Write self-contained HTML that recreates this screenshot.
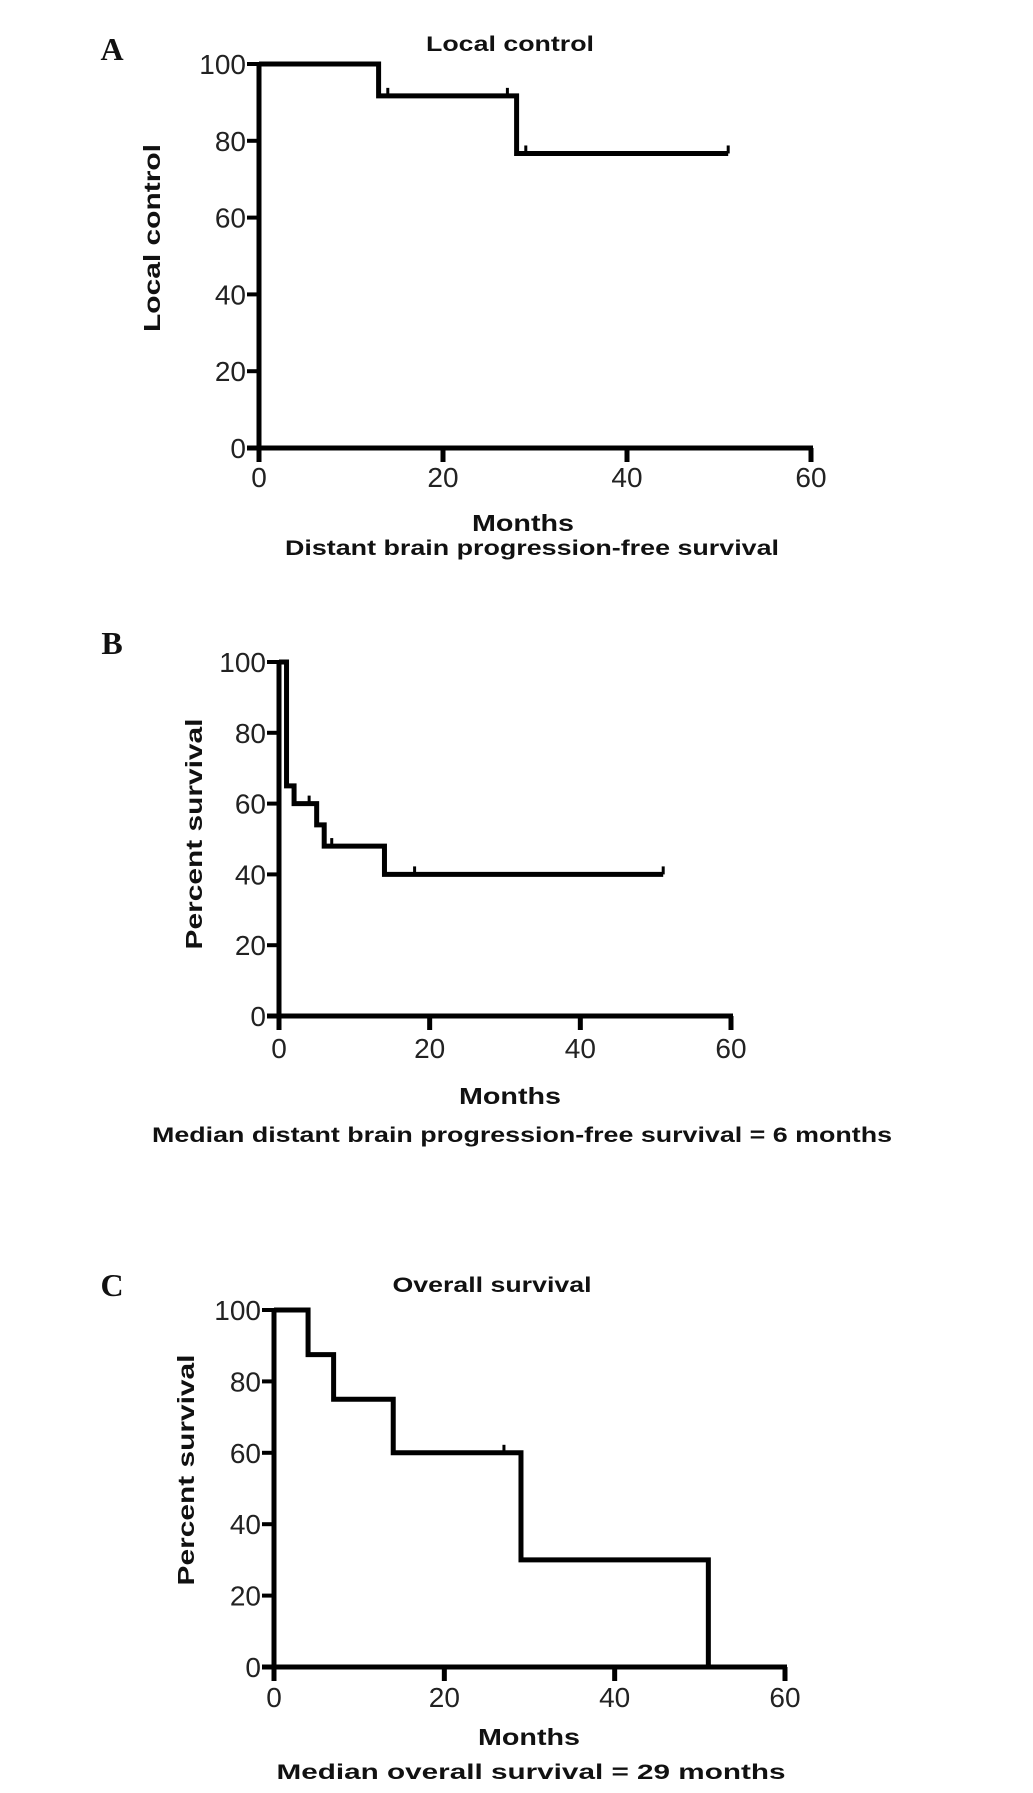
<!DOCTYPE html>
<html><head><meta charset="utf-8"><style>
html,body{margin:0;padding:0;background:#fff;}
svg{display:block;}
</style></head><body>
<svg id="fig" width="1033" height="1793" viewBox="0 0 1033 1793" xmlns="http://www.w3.org/2000/svg" font-family="Liberation Sans, Arial, sans-serif"></svg>
<script>
// Panel A: local control
const aTimes = [0, 13, 28, 51];
const aSurv = [100, 91.7, 76.7, 76.7];
const aCensor = [14, 27, 29, 51];
// Panel B: distant brain progression-free survival
const bTimes = [0, 1, 2, 5, 6, 14, 51];
const bSurv = [100, 65, 60, 54, 48, 40, 40];
const bCensor = [4, 7, 18, 51];
// Panel C: overall survival
const cTimes = [0, 4, 7, 14, 29, 51];
const cSurv = [100, 87.5, 75, 60, 30, 0];
const cCensor = [27];
const xTicks = [0, 20, 40, 60];
const yTicks = [0, 20, 40, 60, 80, 100];

const NS = 'http://www.w3.org/2000/svg';
const svg = document.getElementById('fig');
function mk(tag, attrs, parent) {
  const e = document.createElementNS(NS, tag);
  for (const k in attrs) e.setAttribute(k, attrs[k]);
  (parent || svg).appendChild(e);
  return e;
}
function txt(parent, x, y, s, size, opts) {
  const t = mk('text', Object.assign({x: x, y: y, 'font-size': size, 'text-anchor': 'middle', fill: '#111'}, opts || {}), parent);
  t.textContent = s;
  return t;
}

function panel(cfg) {
  const g = mk('g', {});
  
  
  const X = v => cfg.x0 + (v / 60) * (cfg.x1 - cfg.x0);
  const Y = v => cfg.y0 - (v / 100) * (cfg.y0 - cfg.y1);

  const letter = txt(g, 112, cfg.letterY, cfg.letter, 32, {'font-family': 'Liberation Serif, serif', 'font-weight': 'bold'});
  
  

  if (cfg.title) {
    const t = txt(g, cfg.titleX, cfg.titleY, cfg.title, 21, {'font-weight': 'bold', textLength: cfg.titleW, lengthAdjust: 'spacingAndGlyphs'});
    
    
  }

  const yAxis = mk('line', {x1: X(0), y1: Y(100) - 2, x2: X(0), y2: Y(0) + 14, stroke: '#000', 'stroke-width': 5}, g);
  
  
  const xAxis = mk('line', {x1: X(0) - 12, y1: Y(0), x2: X(60) + 2, y2: Y(0), stroke: '#000', 'stroke-width': 5}, g);
  
  

  yTicks.forEach(v => {
    const tk = mk('line', {x1: X(0) - 12, y1: Y(v), x2: X(0), y2: Y(v), stroke: '#000', 'stroke-width': 4}, g);
    
    
    const lb = txt(g, X(0) - 13, Y(v) + 10, String(v), 28, {'text-anchor': 'end', fill: '#222', transform: 'scale(1,1)'});
    
    
  });
  xTicks.forEach(v => {
    const tk = mk('line', {x1: X(v), y1: Y(0), x2: X(v), y2: Y(0) + 14, stroke: '#000', 'stroke-width': 5}, g);
    
    
    const lb = txt(g, X(v), cfg.tickLabelY + 1, String(v), 28, {fill: '#222'});
    
    
  });

  let d = 'M' + X(cfg.times[0]) + ' ' + Y(cfg.surv[0]);
  for (let i = 1; i < cfg.times.length; i++) {
    d += ' H' + X(cfg.times[i]) + ' V' + Y(cfg.surv[i]);
  }
  const curve = mk('path', {d: d, fill: 'none', stroke: '#000', 'stroke-width': 5}, g);
  
  

  cfg.censor.forEach(c => {
    let s = cfg.surv[0];
    for (let i = 0; i < cfg.times.length; i++) if (cfg.times[i] <= c) s = cfg.surv[i];
    const m = mk('line', {x1: X(c), y1: Y(s), x2: X(c), y2: Y(s) - 8, stroke: '#000', 'stroke-width': 3}, g);
    
    
  });

  const yl = txt(g, 0, 0, cfg.yLabel, 23, {'font-weight': 'bold', transform: 'translate(' + (cfg.yLabelX + 8) + ',' + cfg.yLabelY + ') rotate(-90)', textLength: cfg.yLabelW, lengthAdjust: 'spacingAndGlyphs'});
  
  

  const xl = txt(g, cfg.monthsX, cfg.monthsY + 8, 'Months', 23, {'font-weight': 'bold', textLength: 102, lengthAdjust: 'spacingAndGlyphs'});
  
  

  if (cfg.caption) {
    const cp = txt(g, cfg.captionX, cfg.captionY + 7, cfg.caption, 21, {'font-weight': 'bold', textLength: cfg.captionW, lengthAdjust: 'spacingAndGlyphs'});
    
    
  }
}

panel({name: 'panel-a-local-control', letter: 'A', letterY: 60, title: 'Local control', titleX: 510, titleY: 51, titleW: 168,
  x0: 259, x1: 811, y0: 448, y1: 64, tickLabelY: 486, times: aTimes, surv: aSurv, censor: aCensor,
  yLabel: 'Local control', yLabelX: 152, yLabelY: 238, yLabelW: 188, monthsX: 523, monthsY: 523,
  caption: 'Distant brain progression-free survival', captionX: 532, captionY: 548, captionW: 494});

panel({name: 'panel-b-distant-brain-pfs', letter: 'B', letterY: 654, title: null,
  x0: 279, x1: 731, y0: 1016, y1: 662, tickLabelY: 1057, times: bTimes, surv: bSurv, censor: bCensor,
  yLabel: 'Percent survival', yLabelX: 194, yLabelY: 834, yLabelW: 231, monthsX: 510, monthsY: 1096,
  caption: 'Median distant brain progression-free survival = 6 months', captionX: 522, captionY: 1135, captionW: 740});

panel({name: 'panel-c-overall-survival', letter: 'C', letterY: 1296, title: 'Overall survival', titleX: 492, titleY: 1292, titleW: 199,
  x0: 274, x1: 785, y0: 1667, y1: 1310, tickLabelY: 1706, times: cTimes, surv: cSurv, censor: cCensor,
  yLabel: 'Percent survival', yLabelX: 186, yLabelY: 1470, yLabelW: 231, monthsX: 529, monthsY: 1737,
  caption: 'Median overall survival = 29 months', captionX: 531, captionY: 1772, captionW: 509});
</script>
</body></html>
